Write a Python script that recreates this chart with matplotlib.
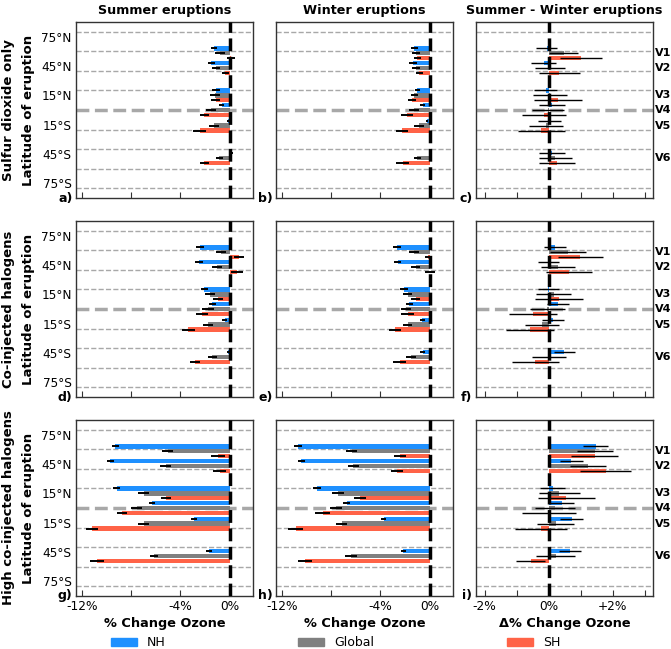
import matplotlib.pyplot as plt
import matplotlib.transforms as mtransforms
import numpy as np

# eruption latitudes of the six test volcanoes
volcanoes = ['V1', 'V2', 'V3', 'V4', 'V5', 'V6']
erupt_lat = [58, 43, 15, 0, -16, -49]

series = ['NH', 'Global', 'SH']
colors = ['#1e90ff', '#808080', '#ff6347']

# each panel: [NH, Global, SH] values per volcano, and the matching errors
# row 1 - sulfur dioxide only
a_vals = [[-1.25, -1.5, -1.1, -0.65, -0.1, 0.15],
          [-0.8, -1.1, -1.2, -1.5, -1.25, -0.85],
          [0.1, -0.35, -1.15, -2.05, -2.45, -2.05]]
a_errs = [[0.25, 0.3, 0.3, 0.2, 0.1, 0.15],
          [0.4, 0.3, 0.4, 0.4, 0.4, 0.3],
          [0.3, 0.3, 0.4, 0.4, 0.5, 0.4]]
b_vals = [[-1.25, -1.35, -1.0, -0.55, -0.2, 0.05],
          [-1.1, -1.1, -1.25, -1.25, -0.9, -1.0],
          [-1.0, -0.85, -1.45, -1.85, -2.25, -2.2]]
b_errs = [[0.3, 0.3, 0.2, 0.2, 0.1, 0.1],
          [0.3, 0.3, 0.3, 0.4, 0.4, 0.3],
          [0.3, 0.3, 0.3, 0.5, 0.5, 0.5]]
c_vals = [[-0.06, -0.16, -0.1, 0.1, 0.02, 0.1],
          [0.47, 0.05, 0.05, -0.02, -0.1, 0.2],
          [1.0, 0.33, 0.28, -0.15, -0.23, 0.26]]
c_errs = [[0.33, 0.4, 0.35, 0.4, 0.35, 0.4],
          [0.45, 0.47, 0.53, 0.5, 0.53, 0.52],
          [0.65, 0.65, 0.75, 0.7, 0.74, 0.57]]

# row 2 - co-injected halogens
d_vals = [[-2.4, -2.5, -2.05, -1.4, -0.4, -0.1],
          [-0.7, -1.05, -1.6, -1.75, -1.75, -1.4],
          [0.75, 0.6, -0.95, -2.25, -3.35, -2.8]]
d_errs = [[0.3, 0.3, 0.3, 0.3, 0.2, 0.1],
          [0.4, 0.4, 0.4, 0.5, 0.4, 0.4],
          [0.4, 0.5, 0.4, 0.5, 0.5, 0.4]]
e_vals = [[-2.65, -2.6, -2.1, -1.65, -0.6, -0.55],
          [-1.3, -1.15, -1.8, -1.9, -1.8, -1.5],
          [-0.1, 0.0, -1.15, -1.8, -2.8, -2.45]]
e_errs = [[0.3, 0.3, 0.3, 0.3, 0.2, 0.2],
          [0.4, 0.4, 0.4, 0.4, 0.4, 0.4],
          [0.3, 0.4, 0.4, 0.5, 0.5, 0.5]]
f_vals = [[0.2, 0.0, -0.02, 0.28, 0.12, 0.48],
          [0.6, 0.28, 0.15, -0.05, -0.22, 0.0],
          [0.98, 0.62, 0.33, -0.5, -0.58, -0.42]]
f_errs = [[0.35, 0.33, 0.33, 0.35, 0.34, 0.33],
          [0.55, 0.53, 0.55, 0.55, 0.53, 0.53],
          [0.7, 0.72, 0.75, 0.75, 0.74, 0.74]]

# row 3 - high co-injected halogens
g_vals = [[-9.3, -9.7, -9.2, -6.3, -2.9, -1.65],
          [-5.05, -5.2, -7.0, -7.55, -7.0, -6.15],
          [-0.95, -0.82, -5.2, -8.75, -11.2, -10.8]]
g_errs = [[0.3, 0.3, 0.3, 0.25, 0.25, 0.25],
          [0.45, 0.45, 0.45, 0.45, 0.45, 0.35],
          [0.55, 0.5, 0.4, 0.4, 0.5, 0.55]]
h_vals = [[-10.7, -10.45, -9.15, -6.75, -3.75, -2.15],
          [-6.35, -6.2, -7.45, -7.6, -7.15, -6.4],
          [-2.4, -2.65, -5.65, -8.7, -10.9, -10.15]]
h_errs = [[0.35, 0.3, 0.35, 0.3, 0.2, 0.2],
          [0.45, 0.45, 0.5, 0.5, 0.45, 0.45],
          [0.5, 0.5, 0.5, 0.6, 0.6, 0.6]]
i_vals = [[1.46, 0.7, 0.12, 0.4, 0.71, 0.66],
          [1.43, 1.22, 0.33, 0.2, 0.22, 0.22],
          [1.43, 1.77, 0.55, 0.0, -0.24, -0.57]]
i_errs = [[0.38, 0.36, 0.39, 0.39, 0.35, 0.34],
          [0.56, 0.57, 0.64, 0.62, 0.58, 0.61],
          [0.73, 0.8, 0.89, 0.85, 0.82, 0.45]]

panel_vals = [[a_vals, b_vals, c_vals], [d_vals, e_vals, f_vals], [g_vals, h_vals, i_vals]]
panel_errs = [[a_errs, b_errs, c_errs], [d_errs, e_errs, f_errs], [g_errs, h_errs, i_errs]]
panel_tags = [['a)', 'b)', 'c)'], ['d)', 'e)', 'f)'], ['g)', 'h)', 'i)']]

col_titles = ['Summer eruptions', 'Winter eruptions', 'Summer - Winter eruptions']
row_titles = ['Sulfur dioxide only', 'Co-injected halogens', 'High co-injected halogens']
lat_ticks = [75, 45, 15, -15, -45, -75]
lat_labels = ['75°N', '45°N', '15°N', '15°S', '45°S', '75°S']
grid_lats = [80, 60, 40, 20, -20, -40, -60, -80]

fig = plt.figure(figsize=(6.71, 6.49), dpi=100)
W, H = 671, 649
col_left = [76, 276, 476]
row_top = [22, 221, 420]
ax_w, ax_h = 177, 176

offsets = [5, 0, -5]
bar_h = 4.5

for r in range(3):
    for c in range(3):
        ax = fig.add_axes([col_left[c] / W, 1 - (row_top[r] + ax_h) / H, ax_w / W, ax_h / H])
        for gl in grid_lats:
            ax.axhline(gl, color='#a8a8a8', lw=1, ls='--', zorder=0)
        ax.axhline(0, color='#a8a8a8', lw=2.5, ls='--', zorder=0)

        vals = panel_vals[r][c]
        errs = panel_errs[r][c]
        for k in range(3):
            y = np.array(erupt_lat) + offsets[k]
            ax.barh(y, vals[k], height=bar_h, color=colors[k], zorder=2)
            ax.errorbar(vals[k], y, xerr=errs[k], fmt='none', ecolor='black',
                        elinewidth=1.4 if c < 2 else 1.0, capsize=0, zorder=3)
        ax.axvline(0, color='black', lw=2.5, ls='--', zorder=4)

        ax.set_ylim(-90, 90)
        if c < 2:
            ax.set_xlim(-12.5, 1.9)
            ax.set_xticks([-12, -8, -4, 0])
            ticklabels = ['-12%', '', '-4%', '0%']
            xlab = '% Change Ozone'
        else:
            ax.set_xlim(-2.27, 3.25)
            ax.set_xticks([-2, -1, 0, 1, 2, 3])
            ticklabels = ['-2%', '', '0%', '', '+2%', '']
            xlab = '\u0394% Change Ozone'
        if r == 2:
            ax.set_xticklabels(ticklabels, fontsize=8.7)
            ax.set_xlabel(xlab, fontsize=9.3, fontweight='bold', labelpad=3)
        else:
            ax.set_xticklabels([])
        ax.tick_params(axis='x', direction='in', length=4, color='#333333', pad=3)

        ax.set_yticks(lat_ticks)
        if c == 0:
            ax.set_yticklabels(lat_labels, fontsize=8.7)
        else:
            ax.set_yticklabels([])
        ax.tick_params(axis='y', length=0, pad=3)

        for s in ax.spines.values():
            s.set_color('#333333')
            s.set_linewidth(1)

        ax.text(-0.02, 0, panel_tags[r][c], transform=ax.transAxes, ha='right', va='center',
                fontsize=9, fontweight='bold')

        if c == 2:
            trans = mtransforms.blended_transform_factory(ax.transAxes, ax.transData)
            for name, lat in zip(volcanoes, erupt_lat):
                ax.text(1.01, lat, name, transform=trans, ha='left', va='center',
                        fontsize=8, fontweight='bold')
        if r == 0:
            ax.set_title(col_titles[c], fontsize=9.2, fontweight='bold', pad=6)

    yc = 1 - (row_top[r] + ax_h / 2) / H
    fig.text(9 / W, yc, row_titles[r], rotation=90, ha='center', va='center',
             fontsize=9.5, fontweight='bold')
    fig.text(29 / W, yc, 'Latitude of eruption', rotation=90, ha='center', va='center',
             fontsize=9.5, fontweight='bold')

handles = [plt.Rectangle((0, 0), 1, 1, color=col) for col in colors]
fig.legend(handles, series, loc='center', ncol=3, frameon=False,
           bbox_to_anchor=(0.5, 1 - 643 / H), columnspacing=10.6, handlelength=2.1,
           handleheight=0.65, fontsize=9, borderpad=0, borderaxespad=0)

fig.savefig('out.png', dpi=100)
